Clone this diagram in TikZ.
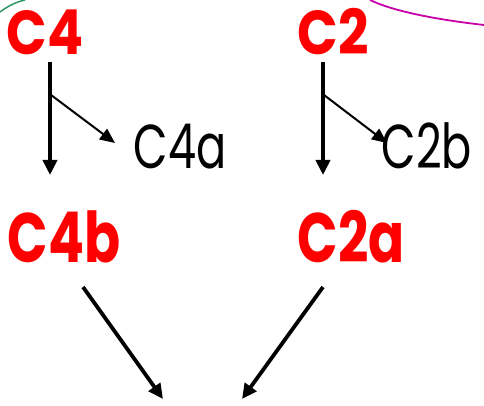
\documentclass[tikz,border=0pt]{standalone}
\usepackage{fontspec}
\setmainfont{Poppins}
\usetikzlibrary{arrows.meta}
\definecolor{lblred}{RGB}{255,0,0}
\definecolor{curvegreen}{RGB}{46,150,100}
\definecolor{curvemag}{RGB}{200,0,170}
\newcommand{\sqz}[2]{\scalebox{#1}[1]{#2}}
\begin{document}
\begin{tikzpicture}[x=1pt,y=-1pt,
  redlbl/.style={text=lblred,font=\fontsize{62}{62}\selectfont\bfseries,inner sep=0pt,anchor=base},
  redbig/.style={text=lblred,font=\fontsize{70}{70}\selectfont\bfseries,inner sep=0pt,anchor=base},
  blklbl/.style={text=black,font=\fontsize{62}{62}\selectfont,inner sep=0pt,anchor=base},
  thickarr/.style={line width=3.8pt,-{Triangle[length=15pt,width=14pt]}},
  thinarr/.style={line width=2pt,-{Triangle[length=15pt,width=13pt]}},
]
\useasboundingbox (0,0) rectangle (484,406);
% curves at top
\draw[curvegreen,line width=1.5pt] (0,12) .. controls (8,6) and (16,2) .. (25,0);
\draw[curvemag,line width=1.8pt] (370,0) .. controls (395,12) and (440,20) .. (484,25);
% labels
\node[redlbl] (c4) at (45,55) {\sqz{0.86}{C4}};
\node[redlbl] (c2) at (333,55) {\sqz{0.86}{C2}};
\node[blklbl] (c4a) at (180,168) {\sqz{0.72}{C4a}};
\node[blklbl] (c2b) at (427,168) {\sqz{0.72}{C2b}};
\node[redbig] (c4b) at (64,262) {\sqz{0.76}{C4b}};
\node[redbig] (c2a) at (351,262) {\sqz{0.76}{C2a}};
% coordinates for connectors
\coordinate (c4s) at (50,62);
\coordinate (c4e) at (50,175);
\coordinate (c4br) at (51,95);
\coordinate (c4ae) at (115,143);
\coordinate (c2s) at (323,62);
\coordinate (c2e) at (323,175);
\coordinate (c2br) at (324,95);
\coordinate (c2be) at (387,143);
\coordinate (c4bs) at (83,287);
\coordinate (c2as) at (323,287);
\coordinate (m1) at (163,399);
\coordinate (m2) at (242,399);
% connectors
\draw[thickarr] (c4s) -- (c4e);
\draw[thinarr] (c4br) -- (c4ae);
\draw[thickarr] (c2s) -- (c2e);
\draw[thinarr] (c2br) -- (c2be);
\draw[thickarr] (c4bs) -- (m1);
\draw[thickarr] (c2as) -- (m2);
\end{tikzpicture}
\end{document}
